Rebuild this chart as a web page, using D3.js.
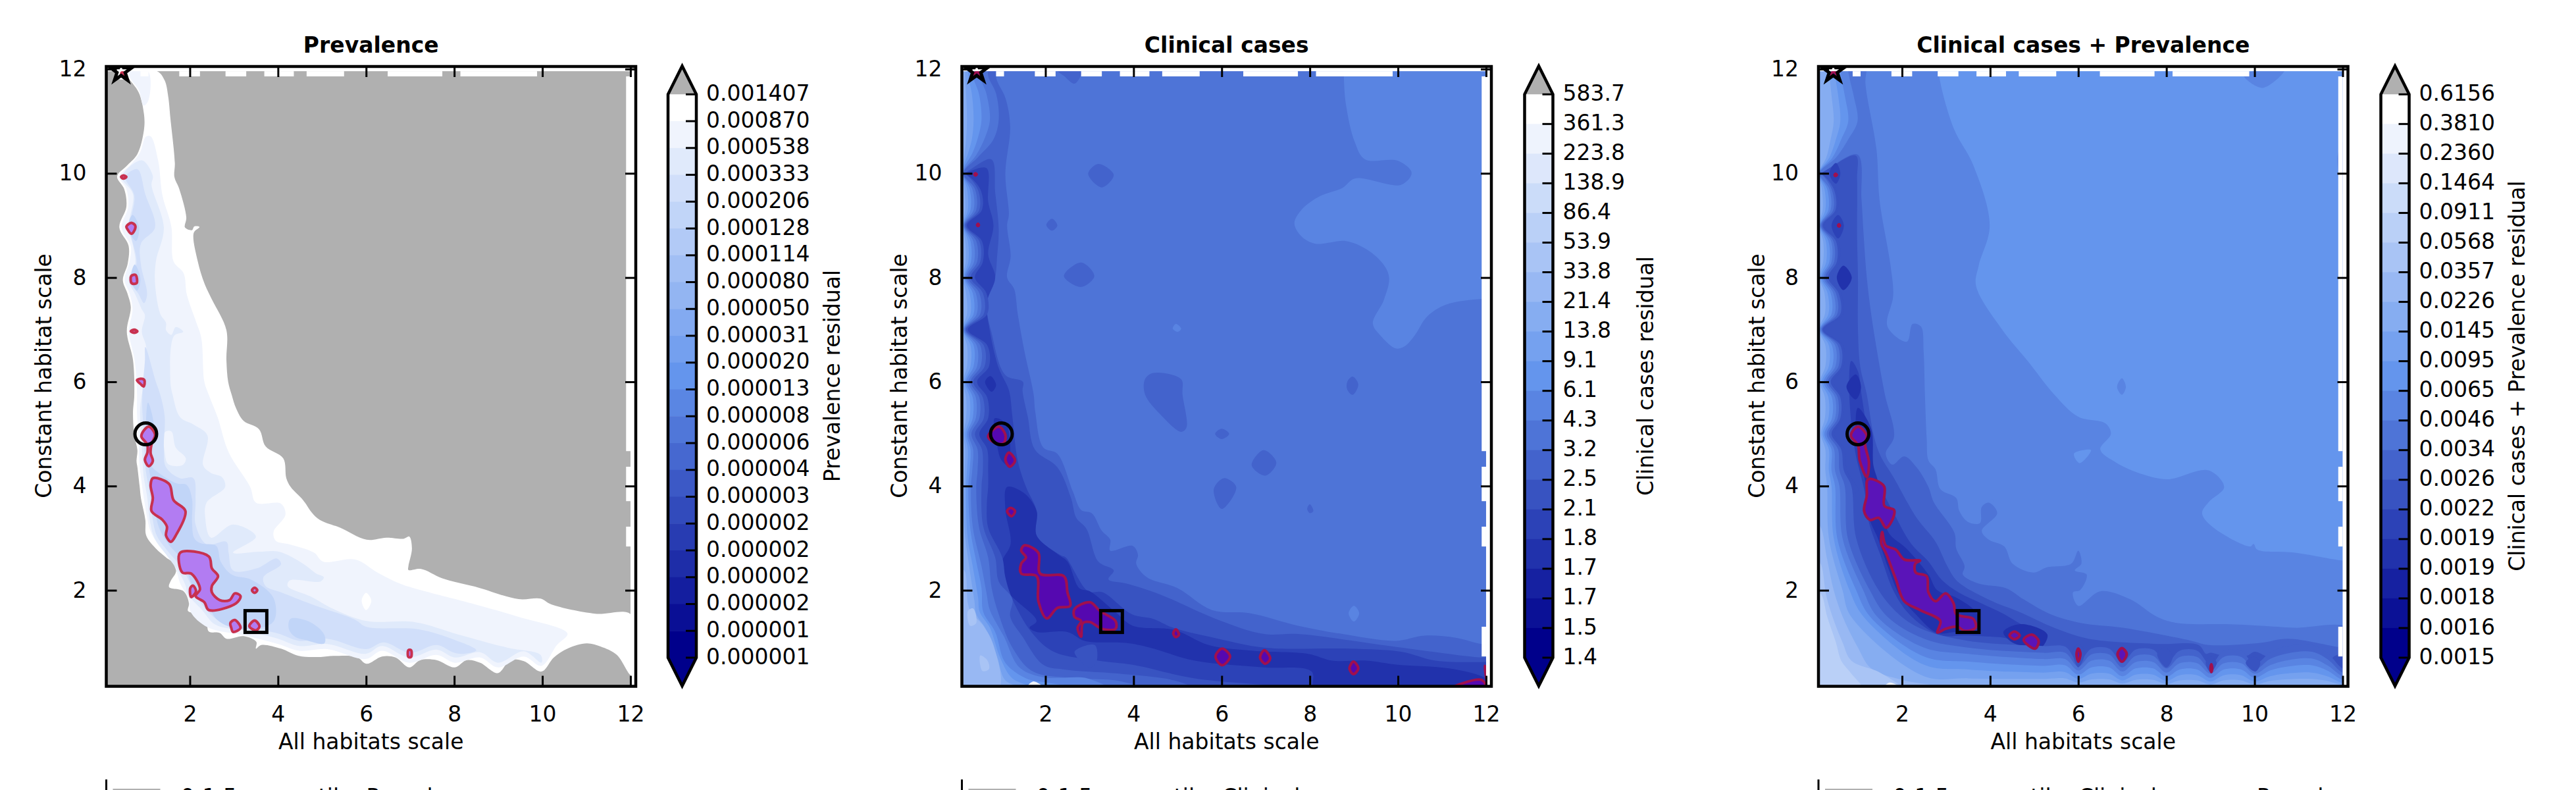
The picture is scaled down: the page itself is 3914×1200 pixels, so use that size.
<!DOCTYPE html>
<html>
<head>
<meta charset="utf-8">
<script src="https://cdn.jsdelivr.net/npm/d3@7"></script>
<style>
html,body{margin:0;padding:0;background:#fff;overflow:hidden}
text{font-family:"DejaVu Sans";font-size:33px;fill:#000;white-space:pre}
</style>
</head>
<body>
<svg id="chart" width="3914" height="1200"></svg>
<script>
// tick and colourbar labels
var axisTicks = [2, 4, 6, 8, 10, 12];
var prevLabels = ["0.001407","0.000870","0.000538","0.000333","0.000206","0.000128","0.000114","0.000080","0.000050","0.000031","0.000020","0.000013","0.000008","0.000006","0.000004","0.000003","0.000002","0.000002","0.000002","0.000002","0.000001","0.000001"];
var clinLabels = ["583.7","361.3","223.8","138.9","86.4","53.9","33.8","21.4","13.8","9.1","6.1","4.3","3.2","2.5","2.1","1.8","1.7","1.7","1.5","1.4"];
var bothLabels = ["0.6156","0.3810","0.2360","0.1464","0.0911","0.0568","0.0357","0.0226","0.0145","0.0095","0.0065","0.0046","0.0034","0.0026","0.0022","0.0019","0.0019","0.0018","0.0016","0.0015"];

// cells with no simulation output (same in all panels)
var topGapX = [[.88,1.06],[1.76,2.23],[2.81,3.28],[3.69,4.36],[4.65,5.5],[6.49,7.73],[8.14,9.88]];
var rightGapY = [[.73,1.3],[2.84,3.22],[3.71,4.37],[4.67,11.86]];

// markers: best fits in each panel
var starPoint = [.44,11.96], circlePoint = [1,5], squarePoint = [3.5,1.4];

// ---- Prevalence contours, [x, y] in habitat-scale units
var prevWhite = [[1.26,11.96],[1.43,11.78],[1.51,11.47],[1.56,11.05],[1.66,10.2],[1.65,9.93],[1.76,9.7],[1.92,9.15],[1.89,8.96],[2.05,8.91],[2.1,8.98],[2.22,8.97],[2.09,8.86],[2.18,8.31],[2.33,7.89],[2.5,7.58],[2.83,6.99],[2.83,6.42],[2.87,6],[2.95,5.75],[3.05,5.49],[3.22,5.25],[3.57,5.09],[3.72,4.76],[4.12,4.53],[4.19,4.15],[4.29,3.98],[4.57,3.73],[4.77,3.49],[4.95,3.35],[5.41,3.2],[6.01,2.97],[6.46,3.01],[6.86,2.99],[6.98,3.03],[7.04,2.8],[6.96,2.46],[6.96,2.39],[7.25,2.41],[7.73,2.23],[8.47,2.07],[9.46,1.83],[9.96,1.84],[10.2,1.73],[11.2,1.55],[12.02,1.53],[12.02,.37],[11.69,.76],[11.32,.92],[11.01,.98],[10.57,.88],[10.26,.71],[9.98,.44],[9.58,.64],[9.27,.66],[8.99,.41],[8.59,.61],[8.28,.66],[8.01,.52],[7.6,.66],[7.23,.66],[6.98,.52],[6.67,.71],[6.36,.73],[6.01,.59],[5.79,.72],[5.26,.74],[4.97,.72],[4.47,.74],[4.07,.88],[3.62,.95],[3.5,.88],[3.51,1.01],[3.22,1.12],[2.83,1.07],[2.68,1.18],[2.43,1.21],[2.38,1.37],[2.23,1.54],[1.96,1.6],[1.98,1.75],[1.86,1.98],[1.53,2.06],[1.56,2.17],[1.68,2.34],[1.68,2.48],[1.46,2.63],[1.23,2.8],[1.01,3.05],[.99,3.35],[.89,3.77],[.86,4],[.81,4.36],[.79,4.48],[.81,4.69],[.74,4.97],[.71,5.41],[.74,5.75],[.71,6.42],[.57,6.96],[.66,7.43],[.59,7.68],[.48,7.95],[.59,8.27],[.61,8.61],[.4,8.96],[.56,9.36],[.51,9.7],[.35,9.94],[.59,10.16],[.81,10.37],[.96,10.84],[.96,11.13],[.84,11.55],[.59,11.85],[.54,11.96]];
var prevStarPatch = [[.36,11.96],[.54,11.96],[.54,11.82],[.36,11.82]];
var prevTopPale = [[.6,11.96],[1.05,11.96],[1.06,11.4],[.95,11.3],[.84,11.6],[.65,11.82]];
var prevPale = [[1.11,10.71],[1.28,10.25],[1.38,9.57],[1.58,8.98],[1.63,8.31],[1.86,8.08],[1.93,7.68],[2.13,7.18],[2.26,6.84],[2.33,6],[2.43,5.75],[2.63,5.32],[2.88,4.65],[3.37,3.98],[3.5,3.68],[4.07,3.66],[4.17,3.45],[3.9,3.12],[3.95,2.95],[4.27,2.88],[4.82,2.72],[5.02,2.55],[5.76,2.59],[6.26,2.34],[6.76,2.13],[7.25,2],[8.47,1.73],[9.46,1.49],[10.57,1.17],[10.33,.95],[9.98,.55],[9.58,.73],[8.99,.52],[8.59,.71],[8.01,.61],[7.6,.76],[6.98,.61],[6.36,.84],[5.99,.68],[5.12,.87],[4.48,.84],[4,.97],[3.26,1.13],[2.4,1.29],[2.02,1.58],[1.98,1.83],[1.78,2.13],[1.72,2.3],[1.6,2.55],[1.3,2.85],[1.1,3.15],[1.03,3.4],[.95,3.8],[.9,4.1],[.85,4.5],[.84,4.9],[.8,5.4],[.8,5.8],[.75,6.4],[.62,6.96],[.7,7.4],[.63,7.7],[.52,7.95],[.63,8.3],[.66,8.6],[.45,8.96],[.6,9.35],[.56,9.7],[.4,9.94],[.65,10.16],[.87,10.4],[1,10.7]];
var prevLight = [[.91,10.25],[1.16,9.95],[1.13,9.78],[1.41,8.96],[1.23,8.31],[1.21,7.89],[1.33,7.3],[1.46,7.13],[1.46,6.99],[1.58,6.9],[1.68,7.05],[1.85,6.96],[1.64,6.88],[1.56,6],[1.61,5.75],[1.78,5.32],[2.08,5.18],[2.4,4.97],[2.3,4.4],[2.48,4.25],[2.73,4.17],[2.8,3.98],[2.38,3.68],[2.35,3.39],[2.48,3.01],[2.98,3.26],[3.5,3.03],[2.98,2.72],[3.57,2.74],[4.02,2.74],[4.57,2.51],[4.87,2.32],[5.04,2.25],[4.97,2.17],[4.27,2.19],[4.22,2.08],[4.77,1.87],[5.26,1.64],[6.01,1.41],[7.1,1.39],[8.1,1.15],[9.2,.9],[9.96,.76],[9.98,.61],[9.58,.83],[8.99,.61],[8.59,.81],[8.01,.71],[7.6,.86],[6.98,.71],[6.36,.93],[5.99,.78],[5.12,.97],[4.48,.93],[4,1.07],[3.26,1.22],[2.58,1.34],[2.27,1.63],[1.96,1.92],[1.9,2.1],[1.75,2.35],[1.45,2.7],[1.2,3],[1.1,3.3],[1.03,3.8],[.95,4.2],[.92,4.6],[.9,5],[.87,5.4],[.91,5.75],[.99,6],[1.01,6.67],[.91,6.96],[.98,7.28],[.91,7.39],[.76,7.68],[.61,7.95],[.76,8.27],[.71,8.61],[.61,8.96],[.71,9.6],[.46,9.93]];
var prevMid1 = [[.81,10.08],[.99,9.6],[1.21,8.96],[.89,8.65],[.89,8.25],[1.03,7.68],[.96,7.51],[.84,7.68],[.64,7.95],[.79,8.27],[.64,8.96],[.74,9.57],[.54,9.93]];
var prevMid2 = [[.99,6.67],[1.23,6],[1.33,5.75],[1.43,5.33],[1.41,4.74],[1.46,4.36],[1.78,4.15],[2.08,4.15],[2.13,3.73],[2.13,3.26],[2.38,2.88],[2.83,2.93],[2.88,2.72],[2.98,2.38],[3.52,2.42],[3.97,2.61],[4.07,2.5],[3.67,2.25],[3.72,2.08],[4.07,1.96],[4.77,1.73],[5.76,1.43],[6,1.3],[7.2,1.25],[8,1.05],[8.5,.85],[8.2,.78],[8,.8],[7.6,.95],[7,.8],[6.4,1],[6,.87],[5.12,1.07],[4.48,1.03],[4,1.17],[3.26,1.3],[2.7,1.4],[2.4,1.6],[2.1,1.95],[2,2.15],[1.8,2.45],[1.5,2.75],[1.25,3.05],[1.15,3.4],[1.08,3.9],[1,4.3],[.97,4.7],[.95,5.1],[.92,5.5],[.93,5.9],[.98,6.4]];
var prevPaleIsland = [[1.43,5.03],[1.58,5.05],[1.68,4.74],[1.91,4.53],[1.83,4.4],[1.51,4.42],[1.43,4.65]];
var prevWhiteIsland = [[5.9,1.8],[6,1.95],[6.12,1.8],[6,1.62]];
var prevDeep1 = [[1.05,5.6],[1.18,5.2],[1.15,4.7],[1.12,4.4],[1.3,4.25],[1.7,4.05],[1.93,4.02],[2.05,3.75],[2.05,3.3],[2.1,3],[2.25,2.9],[2.6,2.85],[2.7,2.55],[2.95,2.3],[3.4,2.2],[3.9,1.85],[3.9,1.4],[3.4,1.25],[2.9,1.3],[2.6,1.45],[2.45,1.65],[2.1,2],[1.85,2.55],[1.5,2.9],[1.3,3.2],[1.2,3.6],[1.12,4.1],[1.02,4.6],[1,5]];
var prevDeep2 = [[4.28,1.45],[4.7,1.4],[5.05,1.15],[5.05,.98],[4.6,1.05],[4.4,1.1],[4.25,1.25]];
var prevDeep3 = [[.6,8.96],[.7,9.2],[.85,8.96],[.78,8.7]];
var prevDeep4 = [[.66,7.97],[.75,8.25],[.88,7.97],[.8,7.75]];

var prevHot = [
  [[1.07,5.14],[1.21,4.99],[1.13,4.8],[1.11,4.63],[1.16,4.48],[1.07,4.38],[.98,4.5],[1.04,4.65],[1.03,4.8],[.9,4.95],[.96,5.07]],
  [[1.16,4.15],[1.53,4.04],[1.63,3.73],[1.9,3.52],[1.68,3.05],[1.57,2.93],[1.46,3.05],[1.48,3.22],[1.38,3.35],[1.13,3.52],[1.16,3.77],[1.11,4.02]],
  [[1.78,2.72],[2.43,2.65],[2.5,2.42],[2.64,2.27],[2.5,2.08],[2.5,1.96],[2.68,1.81],[2.9,1.81],[3.02,1.94],[3.15,1.89],[3.05,1.75],[2.43,1.62],[2.33,1.77],[2.13,1.89],[2.23,2.02],[2.03,2.32],[1.83,2.34]],
  [[2.07,2.09],[2.14,1.98],[2.03,1.87],[2.01,2.04]],
  [[3.02,1.43],[3.15,1.28],[2.98,1.2],[2.94,1.28],[2.92,1.37]],
  [[3.47,1.42],[3.58,1.31],[3.5,1.23],[3.35,1.31]],
  [[3.41,2],[3.47,2.05],[3.53,2],[3.47,1.95]],
  [[6.96,.85],[7.02,.85],[7.02,.72],[6.96,.72]],
  [[.44,9.93],[.49,9.96],[.56,9.93],[.49,9.9]],
  [[.56,8.98],[.67,9.05],[.76,9],[.74,8.9],[.67,8.84],[.59,8.92]],
  [[.67,8.03],[.77,8.05],[.8,7.98],[.79,7.89],[.68,7.89]],
  [[.66,6.97],[.74,7],[.81,6.97],[.74,6.94]],
  [[.8,6.03],[.9,6.06],[.97,6.03],[.95,5.91],[.88,5.96]],
  [[.45,11.93],[.5,11.93],[.5,11.88],[.45,11.88]]
];

// ---- shared scallop rows of the left-hand contours
var scallopY = [10,9.7,9.3,9,8.7,8.3,8,7.7,7.3,7,6.7,6.3,6,5.7,5.3,5,4.7,4.3];

// ---- Clinical cases contours
var clinRightLight = [[8.77,11.9],[8.82,11.32],[9.02,10.6],[9.25,10.27],[10,10.24],[10.31,10.01],[10.07,9.78],[9.02,9.9],[8.74,9.72],[8.2,9.55],[7.81,9.3],[7.65,9.04],[7.81,8.79],[8.12,8.65],[8.82,8.7],[9.29,8.54],[9.68,8.24],[9.8,7.99],[9.68,7.57],[9.43,7.12],[9.6,6.89],[9.95,6.64],[10.15,6.68],[10.38,6.89],[10.66,7.25],[11.09,7.48],[11.9,7.59],[12.2,7.59],[12.2,12.2],[8.77,12.2]];
var clinLight2 = [[4.89,7.02],[4.96,7.11],[5.08,7.02],[5,6.96]];
var clinLight3 = [[8.88,1.56],[9,1.7],[9.12,1.56],[9,1.4]];
var clinBand12 = [[.9,11.78],[1.09,11.45],[1.2,10.9],[1.09,9.99],[1.17,9.21],[1.13,9],[1.21,8.41],[1.13,8],[1.29,7.78],[1.37,7.31],[1.52,6.6],[1.73,5.77],[1.77,5.42],[1.95,4.74],[2.27,4.62],[2.62,3.9],[2.81,3.54],[3.05,3.48],[3.28,3.14],[3.47,2.97],[3.47,2.76],[3.98,2.85],[4.1,2.68],[4.06,2.51],[4.3,2.25],[5,2.04],[5.78,1.62],[6.64,1.56],[7.73,1.32],[8.74,1.16],[9.95,1.03],[10.6,1.13],[11.31,1.09],[11.9,.97],[12.2,.97],[12.2,.05],[.05,.05],[.05,12.2],[.8,12.2]];
var clinIslands12 = [
  [[2.23,12],[2.81,11.95],[2.66,11.72],[2.42,11.87]],
  [[2.97,9.99],[3.2,10.18],[3.55,9.97],[3.28,9.73]],
  [[2.02,9.01],[2.15,9.13],[2.27,9],[2.15,8.9]],
  [[2.42,8.03],[2.81,8.29],[3.11,8.03],[2.81,7.82]],
  [[4.26,6.05],[4.45,6.17],[5.08,6.05],[5.11,5.76],[5.2,5.12],[5.08,5.04],[4.6,5.38],[4.26,5.76]],
  [[8.85,6],[8.97,6.1],[9.1,5.95],[8.97,5.75],[8.85,5.85]],
  [[5.85,5],[6,5.1],[6.17,5],[6,4.9]],
  [[6.68,4.4],[6.95,4.69],[7.24,4.45],[6.99,4.2]],
  [[5.82,3.94],[6.05,4.15],[6.33,3.98],[6,3.56]],
  [[7.94,3.56],[8,3.65],[8.08,3.52],[8,3.48]]
];
var clinBand13 = [[.14,10],[.77,10.27],[.86,9.63],[.94,8.92],[.9,8.37],[.86,8],[.67,7.48],[.78,6.93],[1.09,6.13],[1.49,6],[1.48,5.83],[1.6,5.33],[1.76,4.7],[2.27,4.36],[2.58,3.77],[2.7,3.39],[2.93,3.18],[3.2,2.55],[3.55,2.38],[3.43,2.21],[3.83,2.13],[4.6,1.92],[5.87,1.45],[6.96,1.16],[7.73,1.16],[9.99,.91],[11.9,.71],[12.2,.71],[12.2,.05],[.05,.05],[.05,10]];
var clinBand14 = [[.14,10],[.66,10.1],[.7,9.46],[.82,9],[.7,8.45],[.86,8],[.67,7.52],[.74,6.97],[.94,6.26],[1.17,5.84],[1.25,5.33],[1.37,4.49],[1.56,3.98],[1.8,3.52],[1.8,3.05],[2.35,2.67],[2.46,2.63],[2.97,1.98],[3.3,1.96],[3.96,1.54],[4.45,1.45],[4.9,1.28],[5.92,1.07],[6.96,.9],[8.9,.88],[10.07,.82],[10.85,.65],[11.9,.62],[12.2,.62],[12.2,.05],[.05,.05],[.05,10]];
var clinBand15 = [[1.13,3.98],[1.52,3.86],[1.8,3.52],[1.8,3.05],[2.3,2.68],[2.5,2.55],[2.77,2.04],[3.01,1.98],[3.59,1.58],[3.98,1.32],[4.92,1.24],[5.7,.95],[6.71,.84],[7.96,.78],[8.51,.65],[9.29,.65],[9.99,.57],[11.16,.5],[11.9,.35],[12.2,.18],[12.2,.05],[8.12,.05],[8.04,.44],[6.95,.52],[5.39,.65],[4.37,.9],[3.83,.99],[2.89,1.03],[2.5,1.2],[1.8,1.2],[1.64,1.28],[1.8,1.41],[1.09,2.04],[1.02,2.55],[1.21,2.89],[1.09,3.56]];
var clinDark1 = [[.63,6],[.75,6.11],[.88,5.94],[.78,5.81]];
var clinDark2 = [[.85,5.3],[1.1,5.2],[1.2,4.8],[1.15,4.4],[1,4.5],[.9,4.8]];

var clinEdge13 = [.16,.52,.56,.22,.56,.58,.4,.66,.68,.24,.68,.72,.45,.68,.7,.5,.68,.7];
var clinEdge12 = [.15,.46,.5,.19,.5,.52,.3,.58,.6,.2,.6,.62,.36,.58,.6,.4,.56,.58];
var clinEdge11 = [.14,.4,.43,.17,.43,.45,.24,.5,.52,.18,.52,.53,.3,.5,.5,.32,.46,.46];
var clinEdge10 = [.13,.34,.37,.15,.36,.38,.2,.42,.44,.16,.44,.45,.25,.42,.42,.26,.36,.34];
var clinEdge9 = [.12,.28,.3,.14,.3,.31,.17,.35,.37,.14,.37,.37,.2,.35,.35,.22,.3,.28];
var clinEdge8 = [.11,.22,.24,.13,.24,.25,.15,.28,.3,.13,.3,.3,.17,.28,.28,.18,.24,.22];
var clinEdge7 = [.105,.16,.18,.11,.18,.19,.12,.2,.22,.11,.22,.22,.13,.2,.2,.14,.18,.17];

var clinTop11 = [[.05,12.2],[.7,12.2],[.7,11.87],[.88,11.53],[.94,11.03],[.82,10.65],[.47,10.31]];
var clinTop10 = [[.05,12.2],[.51,12.2],[.51,11.87],[.66,11.53],[.74,11.03],[.63,10.69],[.43,10.35]];
var clinTop9 = [[.05,12.2],[.35,12.2],[.35,11.87],[.49,11.53],[.55,11.03],[.47,10.69],[.35,10.4]];
var clinTop8 = [[.05,12.2],[.25,12.2],[.25,11.87],[.33,11.53],[.37,11.03],[.33,10.65],[.25,10.4]];
var clinTop7 = [[.05,12.2],[.18,12.2],[.18,11.87],[.2,11.53],[.22,11.03],[.2,10.65],[.17,10.4]];

var clinLow13 = [[.7,3.98],[.67,3.65],[.7,3.2],[1.02,2.63],[1.09,2.25],[1.25,1.83],[1.68,1.2],[2.19,.82],[3.2,.65],[3.98,.57],[5.39,.31],[8,.1],[.05,.05]];
var clinLow12 = [[.55,3.98],[.59,3.22],[.86,2.63],[.94,2.17],[1.25,1.83],[1.2,1.5],[1.48,1.11],[1.95,.57],[2.42,.48],[3.67,.4],[4.92,.27],[5.39,.1],[.05,.05]];
var clinLow11 = [[.43,3.98],[.49,3.22],[.7,2.63],[.78,2.04],[.94,1.54],[1.25,.9],[1.72,.44],[2.81,.31],[3.59,.27],[4.3,.1],[.05,.05]];
var clinLow10 = [[.31,3.98],[.35,3.22],[.55,2.46],[.66,1.96],[.74,1.62],[1.06,1.11],[1.41,.52],[1.95,.33],[2.95,.31],[3.44,.1],[.05,.05]];
var clinLow9 = [[.25,3.98],[.3,3.14],[.43,2.55],[.55,2.04],[.59,1.58],[.86,1.2],[1.09,.61],[1.56,.31],[2.03,.23],[2.89,.1],[.05,.05]];
var clinLow8 = [[.2,3.98],[.23,3.05],[.35,2.46],[.47,1.87],[.51,1.58],[.74,1.28],[.98,.69],[1.25,.31],[1.8,.1],[.05,.05]];
var clinLow7 = [[.16,3.22],[.27,2.46],[.39,1.79],[.43,1.54],[.63,1.28],[.9,.73],[1.09,.27],[1.52,.1],[.05,.05]];
var clinCorner6 = [[.05,2.38],[.16,2.38],[.24,1.75],[.31,1.58],[.59,1.32],[.82,.95],[.94,.1],[.05,.05]];
var clinCorner5a = [[.24,1.6],[.36,1.65],[.43,1.37],[.29,1.32]];
var clinCorner5b = [[.52,.75],[.68,.66],[.72,.49],[.57,.45]];
var clinWhiteBit = [[1.56,.1],[1.72,.25],[2,.1]];
var clinIsland13 = [[2.66,.82],[3.12,.95],[3.16,.63],[3,.52]];

var clinHot = [
  [[.94,5.14],[1.09,4.99],[1.06,4.83],[.9,4.81],[.7,4.95]],
  [[1.17,4.64],[1.31,4.49],[1.19,4.37],[1.09,4.51]],
  [[1.21,3.58],[1.31,3.52],[1.23,3.42],[1.13,3.52]],
  [[1.52,2.86],[1.84,2.72],[1.88,2.32],[2.42,2.27],[2.5,1.96],[2.56,1.7],[2.27,1.66],[2.03,1.46],[1.84,1.79],[1.8,2.27],[1.45,2.32],[1.45,2.51],[1.56,2.63],[1.45,2.76]],
  [[3.01,1.77],[3.24,1.6],[3.59,1.41],[3.59,1.26],[3.28,1.26],[3.01,1.39],[2.85,1.37],[2.81,1.11],[2.73,1.28],[2.81,1.41],[2.66,1.49],[2.66,1.64]],
  [[4.9,1.17],[4.96,1.25],[5.03,1.15],[4.96,1.1]],
  [[5.86,.73],[6.01,.88],[6.19,.73],[6.01,.56]],
  [[6.87,.71],[6.97,.85],[7.1,.69],[6.99,.59]],
  [[8.9,.5],[8.99,.63],[9.1,.5],[8.99,.39]],
  [[11.16,.1],[11.9,.28],[12,.1]],
  [[11.97,.55],[12.02,.45],[12.02,.25]],
  [[.39,9.98],[.41,10],[.44,9.98],[.41,9.96]],
  [[.45,9.01],[.47,9.03],[.49,9.01],[.47,8.99]],
  [[.4,11.93],[.5,11.93],[.5,11.88],[.4,11.88]]
];

// ---- Clinical cases + Prevalence contours
var bothLightest = [[2.84,11.89],[3.18,10.85],[3.61,10.17],[3.99,9],[3.74,8.23],[3.68,7.84],[4.3,6.97],[4.87,6.38],[5.45,5.76],[6,5.33],[6.62,5.2],[6.74,5],[6.5,4.7],[6.86,4.45],[7.48,4.22],[8.03,4.13],[8.96,4.3],[9.31,3.98],[8.96,3.69],[8.81,3.48],[9.04,3.22],[9.9,2.84],[9.98,2.89],[10.06,2.78],[10.91,2.72],[12,2.57],[12.2,2.57],[12.2,12.2],[2.84,12.2]];
var bothIslands10 = [
  [[9.75,11.89],[10.18,11.64],[10.69,12]],
  [[6.88,5.9],[6.99,6.07],[7.08,5.9],[6.99,5.75]],
  [[11.88,10.3],[12,10.6],[12,9.6]],
  [[3.98,3.6],[4.04,3.75],[4.1,3.6],[4.04,3.48]]
];
var bothIsland9 = [[5.9,4.62],[6.11,4.69],[6.29,4.69],[6.03,4.44]];
var bothBand11 = [[1.17,11.72],[1.42,10.46],[1.49,9.49],[1.74,8.23],[1.8,7.65],[1.67,7.06],[2.11,6.77],[2.24,7.11],[2.43,7.06],[2.49,6.58],[2.52,5.76],[2.56,4.91],[2.6,4.49],[2.76,4.32],[2.87,3.94],[3.23,3.77],[3.3,3.52],[3.5,3.31],[3.77,3.29],[3.81,3.6],[3.97,3.68],[4.16,3.48],[3.81,3.14],[3.97,2.97],[4.32,2.84],[4.51,2.51],[4.98,2.34],[5.29,2.44],[5.84,2.51],[6,2.76],[6.07,2.51],[5.92,2.38],[6.19,2.3],[6.04,2],[5.88,1.96],[6,1.7],[6.5,1.98],[7.17,1.83],[7.79,1.49],[8.26,1.37],[9.35,1.35],[10.13,1.32],[10.91,1.28],[12.2,1.25],[12.2,.05],[.05,.05],[.05,12.2],[1.17,12.2]];
var bothBand12 = [[.99,10.36],[1.08,9.5],[1.13,8.8],[1.2,8],[1.3,7.3],[1.45,6.5],[1.61,5.76],[1.82,4.95],[1.63,4.62],[1.78,4.41],[2.05,4.57],[2.33,4.36],[2.6,3.98],[2.72,3.69],[3.19,3.1],[3.23,2.8],[3.42,2.46],[3.38,2.3],[3.73,2.13],[4.36,2.04],[4.75,1.83],[5.37,1.54],[6.07,1.37],[7.01,1.28],[8.57,1.03],[8.96,.95],[10.13,.99],[10.76,1.07],[12,.9],[12.2,.9],[12.2,.05],[.05,.05],[.05,10],[.14,10]];
var bothBand13 = [[.95,10.34],[.98,9.9],[.98,8.8],[1,8],[1,7],[1.05,6.3],[1.2,5.76],[1.35,5],[1.5,4.6],[1.82,4.15],[2.33,3.39],[2.76,2.93],[3.03,2.46],[3.26,2.17],[4.05,1.79],[4.67,1.58],[5.45,1.28],[6.23,1.07],[7.79,.97],[8.73,.95],[8.9,.78],[9,.8],[9.25,.75],[9.6,.7],[9.85,.75],[10,.82],[10.22,.75],[10.5,.6],[11.5,.5],[11.85,.75],[12.2,.75],[12.2,.05],[.05,.05],[.05,10],[.14,10]];
var bothBand14 = [[.85,6.4],[1,6.2],[1.08,5.76],[1.22,5],[1.3,4.6],[1.35,4.2],[1.55,3.9],[1.8,3.5],[2.2,2.9],[2.6,2.55],[2.9,2.2],[3.3,1.95],[3.8,1.75],[4.3,1.55],[4.7,1.35],[5.2,1.15],[4.7,1.05],[4.2,1.1],[3.4,1.13],[2.9,1.13],[2.5,1.3],[2.1,1.6],[1.8,2],[1.5,2.7],[1.25,3.3],[1.15,3.9],[.95,4.6],[.85,5.2],[.8,6]];
var bothTips14 = [
  [[.35,10],[.5,10.2],[.6,10],[.5,9.8]],
  [[.4,9],[.55,9.2],[.68,9],[.55,8.75]]
];
var bothCore15 = [[1.55,3.6],[1.7,3.1],[2.1,2.8],[2.6,2.3],[2.8,2],[3.25,1.85],[3.7,1.55],[3.7,1.2],[3.2,1.2],[2.8,1.18],[2.3,1.55],[1.95,1.9],[1.7,2.4],[1.45,3],[1.25,3.4],[1.2,3.9],[1.05,4.6],[.95,5.2],[1,5.5],[1.3,5.1],[1.35,4.4],[1.45,4.1]];
var bothDark1 = [[.52,8],[.67,8.23],[.86,8],[.67,7.76]];
var bothDark2 = [[.74,5.9],[.95,6.14],[1.07,5.9],[.95,5.66]];
var bothDark3 = [[4.3,1.2],[4.7,1.35],[5.3,1.15],[5.1,.85],[4.9,.9],[4.5,1]];

var bothEdge13 = [.16,.5,.54,.24,.56,.58,.42,.62,.66,.24,.66,.68,.45,.66,.66,.46,.7,.75];
var bothEdge12 = [.15,.45,.49,.2,.5,.52,.32,.56,.6,.2,.6,.62,.38,.6,.6,.4,.62,.68];
var bothEdge11 = [.14,.4,.44,.17,.44,.46,.26,.5,.53,.18,.54,.56,.32,.54,.54,.34,.55,.58];
var bothEdge10 = [.13,.35,.38,.15,.39,.4,.22,.44,.47,.16,.48,.49,.27,.48,.48,.29,.46,.48];
var bothEdge9 = [.12,.3,.33,.14,.33,.35,.18,.38,.4,.14,.41,.42,.22,.41,.41,.24,.4,.4];
var bothEdge8 = [.11,.24,.26,.13,.27,.28,.15,.31,.33,.13,.34,.34,.18,.33,.33,.2,.34,.34];
var bothEdge7 = [.105,.18,.2,.11,.21,.21,.125,.24,.25,.11,.26,.26,.14,.25,.25,.16,.26,.26];

var bothTop10 = [[.05,12.2],[.78,12.2],[.78,11.96],[.9,11.5],[.99,11],[.78,10.65],[.5,10.3]];
var bothTop9 = [[.05,12.2],[.6,12.2],[.6,11.96],[.7,11.5],[.78,11],[.62,10.65],[.42,10.3]];
var bothTop8 = [[.05,12.2],[.47,12.2],[.47,11.96],[.55,11.5],[.6,11],[.5,10.65],[.35,10.3]];
var bothTop7 = [[.05,12.2],[.35,12.2],[.35,11.96],[.4,11.5],[.45,11],[.38,10.65],[.28,10.3]];
var bothTop6 = [[.05,12.2],[.25,12.2],[.25,11.96],[.28,11.5],[.3,11],[.25,10.65],[.2,10.3]];

// bottom contours, y at these x, pinched at the integer scales
var bottomX = [5.2,5.7,6,6.3,6.7,7,7.3,7.7,8,8.3,8.7,9,9.3,9.7,10,10.35,10.7,11.3,11.65,12];
var bothBottom12 = [.93,.92,.63,.88,.88,.61,.86,.86,.6,.84,.84,.57,.84,.84,.58,.8,.92,.95,.8,.5];
var bothBottom11 = [.8,.8,.54,.77,.77,.52,.74,.74,.5,.72,.72,.48,.72,.72,.48,.68,.78,.82,.68,.42];
var bothBottom10 = [.68,.68,.46,.65,.65,.44,.62,.62,.42,.6,.6,.4,.6,.6,.4,.56,.65,.69,.56,.35];
var bothBottom9 = [.55,.56,.38,.52,.52,.35,.5,.5,.34,.48,.48,.32,.48,.48,.32,.46,.53,.56,.46,.28];
var bothBottom8 = [.42,.43,.3,.4,.4,.27,.38,.38,.26,.37,.37,.25,.37,.37,.25,.35,.4,.42,.35,.22];
var bothBottom7 = [.3,.31,.23,.29,.29,.21,.28,.28,.2,.27,.27,.19,.27,.27,.19,.26,.29,.3,.26,.18];

var bothLow13 = [[1,3.9],[.05,3.9]];
var bothLow12 = [[.85,4],[.96,3],[1.47,2],[1.98,1.5],[2.5,1.24],[3.5,1.03]];
var bothLow11 = [[.7,4],[.77,3],[1.27,2],[1.66,1.5],[2.5,1.07],[3.5,.9]];
var bothLow10 = [[.58,4],[.65,3],[1.12,2],[1.43,1.5],[2.5,.9],[3.5,.78]];
var bothLow9 = [[.48,4],[.53,3],[.96,2],[1.27,1.5],[2.5,.73],[3.5,.63]];
var bothLow8 = [[.4,4],[.45,3],[.81,2],[1.12,1.5],[2.5,.57],[3.5,.48]];
var bothLow7 = [[.3,4],[.34,3],[.65,2],[.84,1.5],[2.5,.35],[3.5,.31]];
var bothCorner6 = [[.05,3.3],[.16,3.2],[.3,2.6],[.45,2],[.65,1.5],[1,.9],[1.3,.5],[2,.28],[3.2,.1],[.05,.05]];
var bothCorner5 = [[.05,2.6],[.16,2.5],[.28,1.9],[.42,1.5],[.65,1],[.85,.65],[1.5,.42],[2,.1],[.05,.05]];
var bothCorner4 = [[.05,2],[.18,1.9],[.3,1.5],[.5,1],[.62,.65],[.85,.4],[1.1,.1],[.05,.05]];
var bothWhiteBit = [[1.56,.1],[1.72,.23],[2,.1]];
var bothBumps14 = [
  [[7.79,.78],[7.96,.9],[8.14,.73],[8,.52]],
  [[9.8,.61],[9.98,.73],[10.13,.61],[10.02,.44]],
  [[8.89,.61],[9,.73],[9.14,.61],[9,.43]],
  [[5.88,.82],[6,.97],[6.15,.82],[6,.52]],
  [[6.89,.82],[6.99,.9],[7.13,.78],[6.99,.63]]
];

var bothHot = [
  [[1,5.14],[1.2,4.97],[1.16,4.81],[1.25,4.45],[1.2,4.17],[1.04,4.49],[1,4.78],[.84,4.97]],
  [[1.23,4.13],[1.59,4],[1.6,3.62],[1.82,3.54],[1.8,3.39],[1.64,3.2],[1.47,3.39],[1.27,3.35],[1.14,3.52],[1.2,3.81]],
  [[1.55,3.12],[1.63,2.86],[1.86,2.78],[2.05,2.59],[2.41,2.57],[2.3,2.51],[2.31,2.34],[2.56,2.27],[2.6,1.96],[2.76,1.79],[2.99,1.94],[3.17,1.75],[3.23,1.54],[3.62,1.45],[3.67,1.28],[3.42,1.22],[3.26,1.3],[2.99,1.26],[2.8,1.19],[2.87,1.41],[2.41,1.62],[2.05,1.79],[1.86,2.21],[1.63,2.72],[1.53,2.89]],
  [[4.44,1.13],[4.55,1.21],[4.67,1.13],[4.55,1.06]],
  [[4.76,1.05],[4.94,1.15],[5.1,1.03],[5.02,.88]],
  [[6,.88],[6.05,.78],[6,.63],[5.96,.78]],
  [[6.99,.89],[7.1,.78],[6.99,.63],[6.89,.78]],
  [[9.02,.58],[9.04,.5],[9.02,.43],[9,.5]],
  [[.47,9.97],[.49,9.99],[.52,9.97],[.49,9.95]],
  [[.55,9],[.57,9.02],[.59,9],[.57,8.98]],
  [[.4,11.93],[.5,11.93],[.5,11.88],[.4,11.88]]
];

// ---- assemble the paint order of each panel: [band index from the top, ring]
function layer(edge, top, low, yList){
  var chain = d3.zip(edge, yList || scallopY);
  return (top || [[.05,10]]).concat(chain, low);
}
function bottomRow(low, ys){
  return low.concat(d3.zip(bottomX, ys), [[12.2,ys[ys.length-1]],[12.2,.05],[.05,.05]]);
}

var prevRings = [[0,prevWhite],[0,prevStarPatch],[1,prevPale],[1,prevTopPale],[2,prevLight],[1,prevPaleIsland],[0,prevWhiteIsland],[3,prevMid1],[3,prevMid2],[4,prevDeep1],[4,prevDeep2],[4,prevDeep3],[4,prevDeep4]];

var clinRings = [[10,clinRightLight],[10,clinLight2],[10,clinLight3],[12,clinBand12]]
  .concat(clinIslands12.map(function(r){ return [12,r]; }))
  .concat([[13,clinBand13],[14,clinBand14],[15,clinBand15],[15,clinDark1],[15,clinDark2],
    [13,layer(clinEdge13,null,clinLow13)],[13,clinIsland13],
    [12,layer(clinEdge12,null,clinLow12)],
    [11,layer(clinEdge11,clinTop11,clinLow11)],
    [10,layer(clinEdge10,clinTop10,clinLow10)],
    [9,layer(clinEdge9,clinTop9,clinLow9)],
    [8,layer(clinEdge8,clinTop8,clinLow8)],
    [7,layer(clinEdge7,clinTop7,clinLow7)],
    [6,clinCorner6],[5,clinCorner5a],[5,clinCorner5b],[1,clinWhiteBit]]);

var bothRings = [[9,bothLightest]]
  .concat(bothIslands10.map(function(r){ return [10,r]; }))
  .concat([[9,bothIsland9],[11,bothBand11],[12,bothBand12],[13,bothBand13],[14,bothBand14]])
  .concat(bothTips14.map(function(r){ return [14,r]; }))
  .concat([[15,bothCore15],[15,bothDark1],[15,bothDark2],[15,bothDark3],
    [13,layer(bothEdge13,null,bothLow13)],
    [12,bottomRow(layer(bothEdge12,null,bothLow12),bothBottom12)],
    [11,bottomRow(layer(bothEdge11,null,bothLow11),bothBottom11)],
    [10,bottomRow(layer(bothEdge10,bothTop10,bothLow10),bothBottom10)],
    [9,bottomRow(layer(bothEdge9,bothTop9,bothLow9),bothBottom9)],
    [8,bottomRow(layer(bothEdge8,bothTop8,bothLow8),bothBottom8)],
    [7,bottomRow(layer(bothEdge7,bothTop7,bothLow7),bothBottom7)],
    [6,bothCorner6],[5,bothCorner5],[4,bothCorner4],[1,bothWhiteBit]])
  .concat(bothBumps14.map(function(r){ return [13,r]; }));

var panels = [
  {title:"Prevalence", barTitle:"Prevalence residual", legend:"0-1.5 percentile  Prevalence", labels:prevLabels, rings:prevRings, hot:prevHot,
   base:"#b0b0b0", hotFill:"#b27cf2", hotLine:"#c8314f", left:161.5, barLeft:1015, barTitleX:1264, yTitleX:66},
  {title:"Clinical cases", barTitle:"Clinical cases residual", legend:"0-1.5 percentile  Clinical cases", labels:clinLabels, rings:clinRings, hot:clinHot,
   base:null, baseBand:11, hotFill:"#5508b0", hotLine:"#a0104e", left:1461.5, barLeft:2316.5, barTitleX:2500, yTitleX:1366},
  {title:"Clinical cases + Prevalence", barTitle:"Clinical cases + Prevalence residual", legend:"0-1.5 percentile  Clinical cases + Prevalence", labels:bothLabels, rings:bothRings, hot:bothHot,
   base:null, baseBand:10, hotFill:"#5a14b8", hotLine:"#a0104e", left:2763, barLeft:3617.5, barTitleX:3824, yTitleX:2669}
];

var svg = d3.select("#chart");
var plotTop = 101, plotBottom = 1042.5, plotW = 804.5;
var barTop = 143.3, barBottom = 999, barW = 43, barTip = 43;
var ramp = d3.scaleLinear().domain([0,.5,1]).range(["#00008b","#6495ed","#ffffff"]);

panels.forEach(function(p, idx){
  var x = d3.scaleLinear().domain([.104,12.12]).range([p.left, p.left + plotW]);
  var y = d3.scaleLinear().domain([.157,12.05]).range([plotBottom, plotTop]);
  var nBands = p.labels.length - 1;
  var bandColor = function(k){ return ramp((nBands - 1 - k)/(nBands - 1)); };
  var ringPath = d3.line().x(function(d){ return x(d[0]); }).y(function(d){ return y(d[1]); }).curve(d3.curveCatmullRomClosed.alpha(.5));
  var g = svg.append("g").attr("class","panel");

  svg.append("clipPath").attr("id","clip"+idx).append("rect")
    .attr("x",p.left).attr("y",plotTop).attr("width",plotW).attr("height",plotBottom-plotTop);
  var plot = g.append("g").attr("clip-path","url(#clip"+idx+")");

  plot.append("rect").attr("x",p.left).attr("y",plotTop).attr("width",plotW).attr("height",plotBottom-plotTop)
    .attr("fill", p.base || bandColor(p.baseBand));

  plot.selectAll("path.band").data(p.rings).enter().append("path").attr("class","band")
    .attr("d", function(d){ return ringPath(d[1]); })
    .attr("fill", function(d){ return bandColor(d[0]); });

  // lowest residual regions
  plot.selectAll("path.hot").data(p.hot).enter().append("path").attr("class","hot")
    .attr("d", function(d){ return ringPath(d); })
    .attr("fill", p.hotFill).attr("stroke", p.hotLine).attr("stroke-width",4).attr("stroke-linejoin","round");

  // missing cells stay white
  var gapLayer = plot.append("g").attr("fill","#fff");
  gapLayer.append("rect").attr("x",p.left).attr("y",plotTop).attr("width",plotW).attr("height",y(11.96)-plotTop);
  gapLayer.selectAll("rect.top").data(topGapX).enter().append("rect").attr("class","top")
    .attr("x",function(d){ return x(d[0]); }).attr("width",function(d){ return x(d[1])-x(d[0]); })
    .attr("y",y(11.96)).attr("height",y(11.86)-y(11.96));
  gapLayer.append("rect").attr("x",x(12)).attr("width",p.left+plotW-x(12)).attr("y",plotTop).attr("height",plotBottom-plotTop);
  gapLayer.selectAll("rect.right").data(rightGapY).enter().append("rect").attr("class","right")
    .attr("x",x(11.9)).attr("width",x(12)-x(11.9))
    .attr("y",function(d){ return y(d[1]); }).attr("height",function(d){ return y(d[0])-y(d[1]); });

  // markers
  var marks = plot.append("g").attr("fill","none").attr("stroke","#000").attr("stroke-width",5);
  marks.append("path").attr("d", d3.symbol(d3.symbolStar).size(330)())
    .attr("stroke-linejoin","miter")
    .attr("transform","translate("+x(starPoint[0])+","+y(starPoint[1])+")");
  marks.append("circle").attr("cx",x(circlePoint[0])).attr("cy",y(circlePoint[1])).attr("r",16.5);
  marks.append("rect").attr("x",x(squarePoint[0])-16.5).attr("y",y(squarePoint[1])-16.5).attr("width",33).attr("height",33);

  // axes, ticks point inward
  var axes = [
    [d3.axisBottom(x).tickValues(axisTicks).tickFormat(d3.format("d")), "translate(0,"+plotBottom+")"],
    [d3.axisTop(x).tickValues(axisTicks).tickFormat(""), "translate(0,"+plotTop+")"],
    [d3.axisLeft(y).tickValues(axisTicks).tickFormat(d3.format("d")), "translate("+p.left+",0)"],
    [d3.axisRight(y).tickValues(axisTicks).tickFormat(""), "translate("+(p.left+plotW)+",0)"]
  ];
  axes.forEach(function(a, i){
    var ax = g.append("g").attr("transform",a[1]).call(a[0].tickSizeInner(-16).tickSizeOuter(0).tickPadding(30));
    ax.select(".domain").remove();
    ax.selectAll("line").attr("stroke","#000").attr("stroke-width",3);
    ax.selectAll("text").style("font-family","DejaVu Sans").style("font-size","33px").attr("fill","#000");
  });
  g.append("rect").attr("x",p.left).attr("y",plotTop).attr("width",plotW).attr("height",plotBottom-plotTop)
    .attr("fill","none").attr("stroke","#000").attr("stroke-width",4.5);

  g.append("text").attr("x",p.left+plotW/2).attr("y",80).attr("text-anchor","middle").style("font-weight","bold").text(p.title);
  g.append("text").attr("x",p.left+plotW/2).attr("y",1138).attr("text-anchor","middle").text("All habitats scale");
  g.append("text").attr("transform","translate("+(p.yTitleX+12)+",571) rotate(-90)").attr("text-anchor","middle").text("Constant habitat scale");

  // colour bar
  var barY = d3.scaleLinear().domain([0,nBands]).range([barTop,barBottom]);
  var bar = g.append("g");
  bar.selectAll("rect").data(d3.range(nBands)).enter().append("rect")
    .attr("x",p.barLeft).attr("width",barW)
    .attr("y",function(d){ return barY(d); }).attr("height",function(d){ return barY(d+1)-barY(d)+.5; })
    .attr("fill",function(d){ return bandColor(d); });
  bar.append("path").attr("d",d3.line()([[p.barLeft,barTop],[p.barLeft+barW/2,barTop-barTip],[p.barLeft+barW,barTop]])+"Z").attr("fill","#b0b0b0");
  bar.append("path").attr("d",d3.line()([[p.barLeft,barBottom],[p.barLeft+barW/2,barBottom+barTip],[p.barLeft+barW,barBottom]])+"Z").attr("fill","#00008b");
  bar.append("path").attr("fill","none").attr("stroke","#000").attr("stroke-width",4.5).attr("stroke-linejoin","miter")
    .attr("d",d3.line()([[p.barLeft,barTop],[p.barLeft+barW/2,barTop-barTip],[p.barLeft+barW,barTop],[p.barLeft+barW,barBottom],[p.barLeft+barW/2,barBottom+barTip],[p.barLeft,barBottom]])+"Z");
  bar.selectAll("line").data(p.labels).enter().append("line")
    .attr("x1",p.barLeft+barW-16).attr("x2",p.barLeft+barW)
    .attr("y1",function(d,i){ return barY(i); }).attr("y2",function(d,i){ return barY(i); })
    .attr("stroke","#000").attr("stroke-width",3);
  bar.selectAll("text.lab").data(p.labels).enter().append("text").attr("class","lab")
    .attr("x",p.barLeft+barW+15).attr("y",function(d,i){ return barY(i); }).attr("dy","0.29em").text(function(d){ return d; });
  g.append("text").attr("transform","translate("+(p.barTitleX+12)+",571) rotate(-90)").attr("text-anchor","middle").text(p.barTitle);

  // legend, cropped by the bottom of the picture
  g.append("rect").attr("x",p.left-1.5).attr("y",1184).attr("width",3).attr("height",16).attr("fill","#000");
  g.append("rect").attr("x",p.left+10).attr("y",1198).attr("width",72).attr("height",20).attr("fill","#b0b0b0");
  g.append("text").attr("x",p.left+113).attr("y",1222).text(p.legend);
});
</script>
</body>
</html>
